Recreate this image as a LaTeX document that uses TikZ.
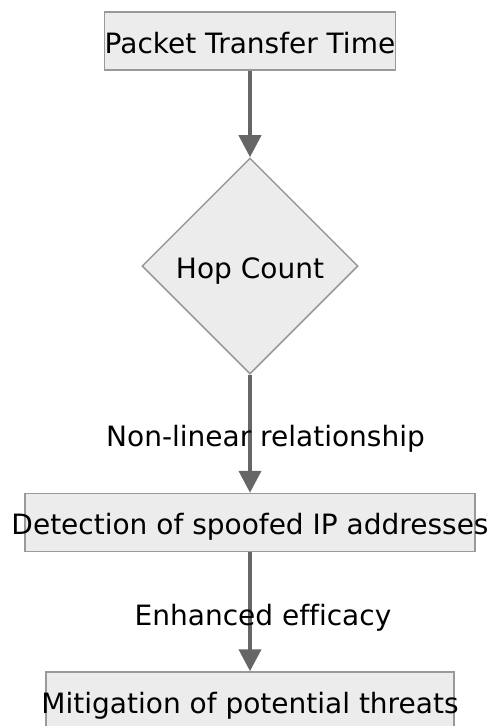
\documentclass[tikz,border=0pt]{standalone}
\usepackage{fontspec}
\setmainfont{DejaVu Sans}[Ligatures=CommonOff]
\usetikzlibrary{shapes.geometric,arrows.meta}
\definecolor{boxfill}{HTML}{ECECEC}
\definecolor{boxline}{HTML}{999999}
\definecolor{edgegray}{HTML}{666666}

\begin{document}
\begin{tikzpicture}[x=1pt,y=-1pt,
  txt/.style={font=\fontsize{28}{33}\selectfont, text=black},
  box/.style={txt, draw=boxline, line width=1.5pt, fill=boxfill,
              inner sep=0pt, minimum height=58pt,
              text height=24pt, text depth=0pt},
  decision/.style={txt, diamond, draw=boxline, line width=1.5pt, fill=boxfill,
              inner sep=0pt, minimum width=216pt, minimum height=216pt,
              text height=24pt, text depth=0pt},
  flow/.style={draw=edgegray, line width=4pt,
               -{Triangle[length=22pt,width=22pt]}},
  lbl/.style={txt, anchor=base, inner sep=0pt}]
\useasboundingbox (0,0) rectangle (488,726);

% process boxes and the decision diamond
\node[box, minimum width=290pt] (ptt) at (250,41) {Packet Transfer Time};
\node[decision] (hop) at (250,266) {Hop Count};
\node[box, minimum width=450pt] (det) at (250,522.5)
  {\makebox[0pt]{Detection of spoofed IP addresses}};
\node[box, minimum width=408pt] (mit) at (250,701)
  {\makebox[0pt]{Mitigation of potential threats}};

% connectors
\draw[flow] (ptt) -- (hop);
\draw[flow] (hop) -- (det);
\draw[flow] (det) -- (mit);

% connector labels
\node[lbl] (l1) at (265.5,446.5) {Non-linear relationship};
\node[lbl] (l2) at (263,625) {Enhanced efficacy};
\end{tikzpicture}
\end{document}
